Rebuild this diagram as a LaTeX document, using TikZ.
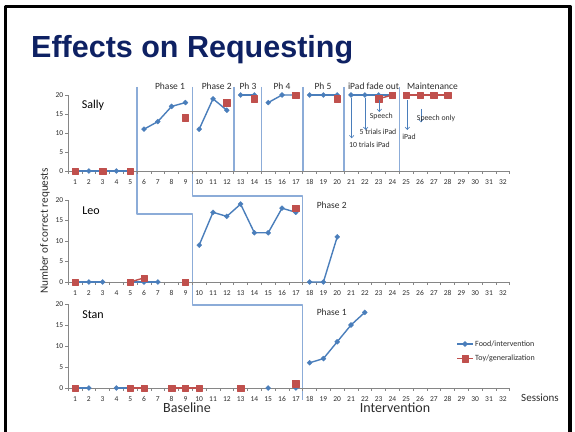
\documentclass[tikz,border=0pt]{standalone}
\usepackage{fontspec}
\setmainfont{Carlito}
\newfontfamily\titlefont{Liberation Sans}
\usetikzlibrary{arrows.meta,plotmarks}
\definecolor{serblue}{RGB}{74,126,187}
\definecolor{serred}{RGB}{192,80,77}
\definecolor{phaseline}{RGB}{140,172,216}
\definecolor{axisgray}{RGB}{134,134,134}
\definecolor{titlenavy}{RGB}{14,33,99}
\definecolor{txtgray}{RGB}{45,45,45}
\newcommand\fs[1]{\fontsize{#1}{#1}\selectfont}
\newcommand\chartaxes[1]{%
  \draw[axisline] (0.5,0) -- (0.5,20);
  \foreach \v in {0,5,...,20} {\draw[axisline] (0.5,\v) -- ++(-3pt,0) node[ytl] (#1y\v) {\v};}
  \draw[axisline] (0.5,0) -- (32.5,0);
  \foreach \k in {0.5,1.5,...,32.5} {\draw[axisline] (\k,0) -- ++(0,-3pt);}
  \foreach \n in {1,...,32} {\node[xtl] (#1x\n) at (\n,0) {\n};}
}
\begin{document}
\begin{tikzpicture}[x=1pt,y=1pt,
  line join=round,
  food/.style={serblue, line width=1.4pt, mark=square*, mark size=1.8pt,
    mark options={rotate=45, fill=serblue, draw=serblue, line width=0.3pt, solid}},
  toy/.style={serred, line width=1.4pt, mark=square*, mark size=3.2pt,
    mark options={fill=serred, draw=serred, line width=0.3pt}},
  axisline/.style={axisgray, line width=0.7pt},
  ytl/.style={anchor=east, inner sep=0pt, xshift=-1.5pt, text=txtgray, font=\fs{7.5}},
  xtl/.style={inner sep=0pt, yshift=-11pt, text=txtgray, font=\fs{7.5}},
  phase/.style={phaseline, line width=1.6pt},
  stair/.style={phaseline, line width=1.4pt},
  phlbl/.style={inner sep=0pt, text=txtgray, font=\fs{9.5}},
  notelbl/.style={inner sep=0pt, text=txtgray, font=\fs{7.8}},
  note/.style={serblue, line width=0.6pt, -{Straight Barb[length=2.5pt,width=4.5pt]}},
  pname/.style={inner sep=0pt, text=black, font=\fs{12}},
  biglbl/.style={inner sep=0pt, text=txtgray, font=\fs{14}},
  legtxt/.style={anchor=west, inner sep=0pt, text=txtgray, font=\fs{8}}
]
\useasboundingbox (0,0) rectangle (575,431);
\fill[white] (0,0) rectangle (575,431);
% slide frame
\draw[line width=3.5pt] (5.3,-5) -- (5.3,424.5) -- (570,424.5) -- (570,-5);
% title
\node[anchor=base west, inner sep=0pt, text=titlenavy, font=\titlefont\bfseries\fs{30.5}] (title) at (31,373) {Effects on Requesting};

% phase lines (Sally)
\draw[phase] (233.7,344) -- (233.7,259);
\draw[phase] (261.3,344) -- (261.3,259);
\draw[phase] (302.7,344) -- (302.7,259);
\draw[phase] (344.1,344) -- (344.1,259);
\draw[phase] (399.3,344) -- (399.3,259);
% staircases
\draw[stair] (137.1,344) -- (137.1,217) -- (192.3,217) -- (192.3,126) -- (302.7,126) -- (302.7,31);
\draw[stair] (192.3,344) -- (192.3,235) -- (302.7,235) -- (302.7,148);

% phase labels
\node[phlbl] (p1) at (170,345) {Phase 1};
\node[phlbl] (p2) at (216.7,345) {Phase 2};
\node[phlbl] (p3) at (248,345) {Ph 3};
\node[phlbl] (p4) at (282,345) {Ph 4};
\node[phlbl] (p5) at (323,345) {Ph 5};
\node[phlbl] (p6) at (373.5,345) {iPad fade out};
\node[phlbl] (p7) at (432.5,345) {Maintenance};
\node[phlbl] (leop2) at (331.7,226) {Phase 2};
\node[phlbl] (stanp1) at (331.7,118.7) {Phase 1};

% ---------- Sally ----------
\begin{scope}[shift={(61.2pt,260pt)}, x=13.8pt, y=3.8pt]
\chartaxes{s}
\draw[food] plot coordinates {(1,0) (2,0) (3,0) (4,0) (5,0)};
\draw[food] plot coordinates {(6,11) (7,13) (8,17) (9,18)};
\draw[food] plot coordinates {(10,11) (11,19) (12,16)};
\draw[food] plot coordinates {(13,20) (14,20)};
\draw[food] plot coordinates {(15,18) (16,20) (17,20)};
\draw[food] plot coordinates {(18,20) (19,20) (20,20)};
\draw[food] plot coordinates {(21,20) (22,20) (23,20) (24,20)};
\draw[toy] plot coordinates {(1,0)};
\draw[toy] plot coordinates {(3,0)};
\draw[toy] plot coordinates {(5,0)};
\draw[toy] plot coordinates {(9,14)};
\draw[toy] plot coordinates {(12,18)};
\draw[toy] plot coordinates {(14,19)};
\draw[toy] plot coordinates {(17,20)};
\draw[toy] plot coordinates {(20,19)};
\draw[toy] plot coordinates {(23,19) (24,20)};
\draw[toy] plot coordinates {(25,20) (26,20) (27,20) (28,20)};
\end{scope}
\node[pname] (sally) at (93,326) {Sally};

% annotations
\coordinate (a1s) at (351.7,333); \coordinate (a1e) at (351.7,292.7);
\coordinate (a2s) at (365.7,333); \coordinate (a2e) at (365.7,301);
\coordinate (a3s) at (379.3,331); \coordinate (a3e) at (379.3,319);
\coordinate (a4s) at (407.3,331); \coordinate (a4e) at (407.3,301);
\coordinate (a5s) at (421,322);   \coordinate (a5e) at (421,308.7);
\draw[note] (a1s) -- (a1e);
\draw[note] (a2s) -- (a2e);
\draw[note] (a3s) -- (a3e);
\draw[note] (a4s) -- (a4e);
\draw[note] (a5s) -- (a5e);
\node[notelbl] (n1) at (369.5,286) {10 trials iPad};
\node[notelbl] (n2) at (378,298.7) {5 trials iPad};
\node[notelbl] (n3) at (381.3,314.3) {Speech};
\node[notelbl] (n4) at (409,294.3) {iPad};
\node[notelbl] (n5) at (436,312.7) {Speech only};

% ---------- Leo ----------
\begin{scope}[shift={(61.2pt,149pt)}, x=13.8pt, y=4.1pt]
\chartaxes{l}
\draw[food] plot coordinates {(1,0) (2,0) (3,0)};
\draw[food] plot coordinates {(5,0) (6,0) (7,0)};
\draw[food] plot coordinates {(10,9) (11,17) (12,16) (13,19) (14,12) (15,12) (16,18) (17,17)};
\draw[food] plot coordinates {(18,0) (19,0) (20,11)};
\draw[toy] plot coordinates {(1,0)};
\draw[toy] plot coordinates {(5,0) (6,1)};
\draw[toy] plot coordinates {(9,0)};
\draw[toy] plot coordinates {(17,18)};
\end{scope}
\node[pname] (leo) at (91,220) {Leo};

% ---------- Stan ----------
\begin{scope}[shift={(61.2pt,43pt)}, x=13.8pt, y=4.2pt]
\chartaxes{t}
\draw[food] plot coordinates {(1,0) (2,0)};
\draw[food] plot coordinates {(4,0) (5,0) (6,0)};
\draw[food] plot coordinates {(8,0) (9,0) (10,0)};
\draw[food] plot coordinates {(15,0)};
\draw[food] plot coordinates {(17,0)};
\draw[food] plot coordinates {(18,6) (19,7) (20,11) (21,15) (22,18)};
\draw[toy] plot coordinates {(1,0)};
\draw[toy] plot coordinates {(5,0) (6,0)};
\draw[toy] plot coordinates {(8,0) (9,0) (10,0)};
\draw[toy] plot coordinates {(13,0)};
\draw[toy] plot coordinates {(17,1)};
\end{scope}
\node[pname] (stan) at (93,116) {Stan};

% axis titles
\node[biglbl, rotate=90, font=\fs{11.2}] (ylab) at (45,200) {Number of correct requests};
\node[biglbl] (base) at (187,23) {Baseline};
\node[biglbl] (interv) at (395,23) {Intervention};
\node[biglbl, font=\fs{11}] (sess) at (540,33) {Sessions};

% legend
\coordinate (lf1) at (457,87); \coordinate (lf2) at (473,87);
\coordinate (lt1) at (457,72.3); \coordinate (lt2) at (473,72.3);
\draw[serblue, line width=1.4pt] (lf1) -- (lf2);
\draw[food] plot coordinates {(465,87)};
\draw[serred, line width=1.4pt] (lt1) -- (lt2);
\draw[toy] plot coordinates {(465,72.3)};
\node[legtxt] (legfood) at (475,87) {Food/intervention};
\node[legtxt] (legtoy) at (475,72.3) {Toy/generalization};
\end{tikzpicture}
\end{document}
